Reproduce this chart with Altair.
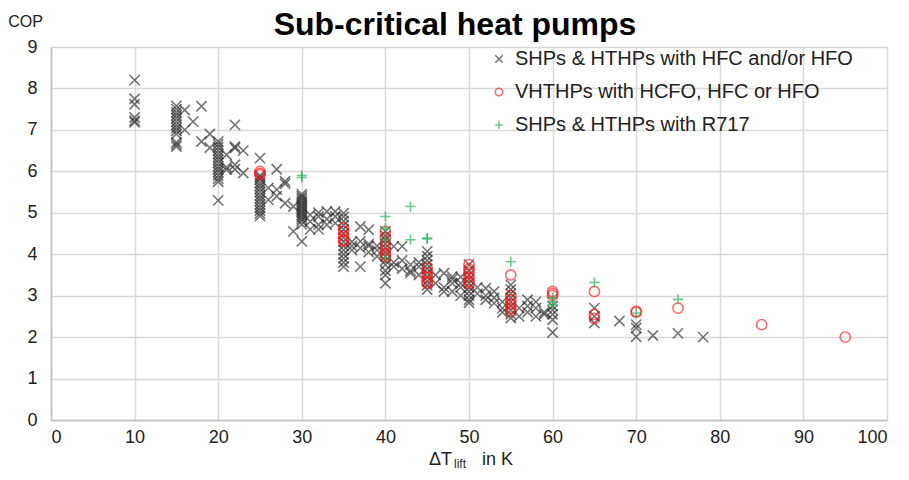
import altair as alt
import pandas as pd

series_names = [
    "SHPs & HTHPs with HFC and/or HFO",
    "VHTHPs with HCFO, HFC or HFO",
    "SHPs & HTHPs with R717",
]

# temperature lift (K) -> list of COP values
hfc_points = {
    10: [8.2, 7.75, 7.62, 7.3, 7.22, 7.18],
    15: [7.58, 7.5, 7.42, 7.35, 7.28, 7.2, 7.12, 7.05, 6.98, 6.9, 6.7, 6.65, 6.6],
    16: [7.48, 7.0],
    17: [7.2],
    18: [7.57, 6.72],
    19: [6.9, 6.57],
    20: [6.72, 6.65, 6.58, 6.5, 6.42, 6.35, 6.28, 6.2, 6.12, 6.05, 5.98, 5.9, 5.82, 5.75, 5.3],
    21: [6.4, 6.1, 6.04],
    22: [7.12, 6.6, 6.56, 6.16, 6.05],
    23: [6.5, 5.96],
    25: [6.32, 5.9, 5.85, 5.8, 5.72, 5.65, 5.58, 5.5, 5.42, 5.35, 5.28, 5.2, 5.12, 5.05, 4.98, 4.92],
    26: [5.31, 5.6],
    27: [6.05, 5.56, 5.4],
    28: [5.76, 5.23, 5.7],
    29: [5.15, 4.55],
    30: [5.45, 5.4, 5.35, 5.3, 5.25, 5.2, 5.15, 5.1, 5.05, 5.0, 4.95, 4.9, 4.85, 4.8, 4.72, 4.31],
    31: [4.79, 4.6, 4.95],
    32: [4.91, 4.71, 4.6, 5.0],
    33: [5.03, 4.71, 4.85],
    34: [4.91, 5.03, 4.75],
    35: [4.99, 4.9, 4.8, 4.7, 4.6, 4.5, 4.4, 4.3, 4.2, 4.1, 4.0, 3.9, 3.8, 3.7],
    36: [4.2, 4.1, 4.3],
    37: [4.67, 4.31, 3.7, 4.15],
    38: [4.59, 4.2, 4.05, 4.25],
    39: [4.1, 4.2, 3.95],
    40: [4.55, 4.45, 4.35, 4.25, 4.15, 4.05, 3.95, 3.85, 3.75, 3.6, 3.5, 3.3],
    41: [4.19, 3.8, 3.7],
    42: [3.85, 3.65, 4.19],
    43: [3.6, 3.75, 3.55],
    44: [3.7, 3.5, 3.8],
    45: [4.07, 3.95, 3.85, 3.75, 3.65, 3.55, 3.45, 3.35, 3.25, 3.15],
    46: [3.5, 3.3],
    47: [3.1, 3.54, 3.2],
    48: [3.46, 3.3, 3.1, 3.4],
    49: [3.45, 3.3, 3.2, 3.0],
    50: [3.75, 3.6, 3.5, 3.4, 3.3, 3.2, 3.1, 3.0, 2.9, 2.83],
    51: [3.2, 3.05],
    52: [3.18, 2.9, 3.0],
    53: [3.1, 2.82, 2.95],
    54: [2.7, 2.85, 2.6],
    55: [3.26, 3.15, 3.05, 2.95, 2.85, 2.75, 2.65, 2.55, 2.46],
    56: [2.7, 2.5],
    57: [2.9, 2.75, 2.6],
    58: [2.85, 2.7, 2.5],
    59: [2.55, 2.6],
    60: [2.75, 2.65, 2.55, 2.42, 2.11],
    65: [2.7, 2.5, 2.34],
    68: [2.39],
    70: [2.3, 2.22, 2.01],
    72: [2.04],
    75: [2.09],
    78: [2.0],
}

vhthp_points = {
    25: [6.0, 5.95, 5.92],
    35: [4.63, 4.55, 4.45, 4.35, 4.31],
    40: [4.55, 4.4, 4.25, 4.1, 4.0, 3.94],
    45: [3.66, 3.55, 3.45, 3.35, 3.3],
    50: [3.75, 3.65, 3.55, 3.45, 3.35, 3.3],
    55: [3.5, 3.0, 2.9, 2.8, 2.7, 2.62],
    60: [3.1, 3.05, 3.0],
    65: [3.1, 2.55, 2.45],
    70: [2.62, 2.6],
    75: [2.7],
    85: [2.3],
    95: [2.0],
}

r717_points = {
    30: [5.9, 5.85],
    40: [4.91, 4.63, 4.35, 3.91],
    43: [5.15, 4.35],
    45: [4.39, 4.37],
    55: [3.82],
    60: [2.95, 2.85, 2.78],
    65: [3.32],
    70: [2.58],
    75: [2.91],
}

x_ticks = list(range(0, 101, 10))
y_ticks = list(range(0, 10))

rows = []
for name, pts in zip(series_names, [hfc_points, vhthp_points, r717_points]):
    for lift, cops in pts.items():
        for c in cops:
            rows.append({"lift": lift, "cop": c, "series": name})
df = pd.DataFrame(rows)

X_PATH = "M-1,-1L1,1M-1,1L1,-1"
PLUS_PATH = "M-1,0L1,0M0,-1L0,1"
FONT = "Liberation Sans"

legend_cfg = dict(
    title=None, orient="none", legendX=438, legendY=2,
    labelFont=FONT, labelFontSize=20, labelColor="#222222", labelLimit=0,
    symbolSize=55, symbolStrokeWidth=1.6, rowPadding=13, labelOffset=6,
)

points = alt.Chart(df).mark_point(
    filled=False, size=105, strokeWidth=1.6, opacity=0.65
).encode(
    x=alt.X(
        "lift:Q",
        scale=alt.Scale(domain=[0, 100], nice=False),
        axis=alt.Axis(
            values=x_ticks, title=None, grid=True, gridColor="#d9d9d9", gridWidth=1.5,
            domainColor="#bfbfbf", domainWidth=1.5, ticks=False, labelPadding=8,
            labelFont=FONT, labelFontSize=18, labelColor="#222222",
        ),
    ),
    y=alt.Y(
        "cop:Q",
        scale=alt.Scale(domain=[0, 9], nice=False),
        axis=alt.Axis(
            values=y_ticks, title="COP", titleAngle=0, titleX=-26, titleY=-26,
            titleAlign="center", titleBaseline="middle", titleFont=FONT,
            titleFontSize=16, titleFontWeight="normal", titleColor="#222222",
            grid=True, gridColor="#d9d9d9", gridWidth=1.5,
            domainColor="#bfbfbf", domainWidth=1.5, ticks=False, labelPadding=14,
            labelFont=FONT, labelFontSize=18, labelColor="#222222",
        ),
    ),
    color=alt.Color(
        "series:N",
        scale=alt.Scale(domain=series_names, range=["#2b2b2b", "#ff1a1a", "#1fae55"]),
        legend=alt.Legend(**legend_cfg),
    ),
    shape=alt.Shape(
        "series:N",
        scale=alt.Scale(domain=series_names, range=[X_PATH, "circle", PLUS_PATH]),
        legend=alt.Legend(**legend_cfg),
    ),
)

def label(txt, x, y, size, align, weight="normal", color="#222222", baseline="alphabetic"):
    return alt.Chart(alt.Data(values=[{}])).mark_text(
        font=FONT, fontSize=size, align=align, baseline=baseline, color=color,
        fontWeight=weight,
    ).encode(x=alt.value(x), y=alt.value(y), text=alt.value(txt))

xtitle = (
    label("ΔT", 401, 418, 18, "right")
    + label("lift", 403, 421, 12, "left")
    + label("in K", 431, 418, 18, "left")
)
main_title = label("Sub-critical heat pumps", 404, -12, 32, "center",
                   weight="bold", color="#000000")

chart = alt.layer(points, xtitle, main_title).properties(
    width=836,
    height=373,
    autosize=alt.AutoSizeParams(type="none"),
    padding={"left": 43, "top": 39, "right": 14, "bottom": 52},
).configure_view(stroke=None)

chart.save("out.html", embed_options={"renderer": "svg", "actions": False})
